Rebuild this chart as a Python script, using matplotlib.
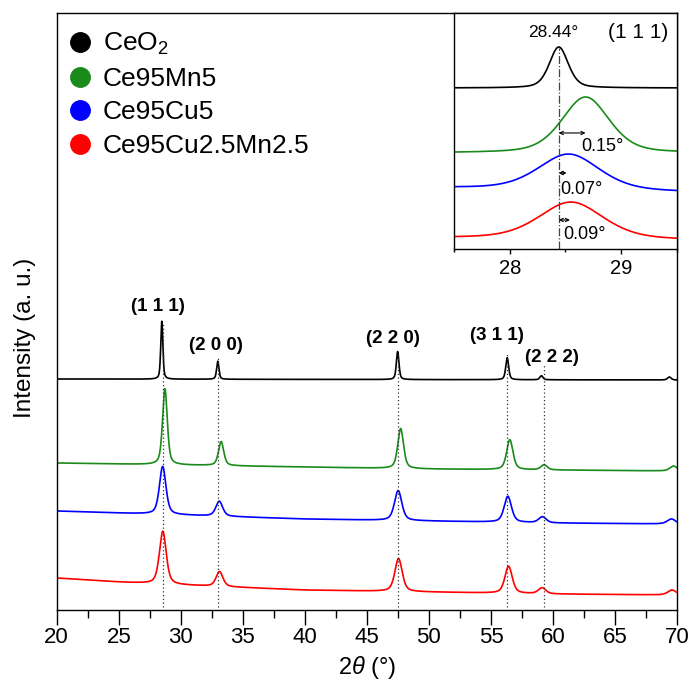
import numpy as np
import matplotlib
matplotlib.use("Agg")
import matplotlib.pyplot as plt
from matplotlib.lines import Line2D
from matplotlib.ticker import MultipleLocator

plt.rcParams['font.family'] = ['Liberation Sans', 'DejaVu Sans']
plt.rcParams['mathtext.fontset'] = 'custom'
plt.rcParams['mathtext.rm'] = 'Liberation Sans'
plt.rcParams['mathtext.it'] = 'Liberation Sans:italic'
plt.rcParams['mathtext.bf'] = 'Liberation Sans:bold'

# ---------------- data ----------------
samples = ["CeO$_2$", "Ce95Mn5", "Ce95Cu5", "Ce95Cu2.5Mn2.5"]
colors = ["black", "#1a8a1a", "#0000ff", "#ff0000"]

# main pattern: peak positions (deg), heights (a.u.), FWHM (deg)
pos_ceo2 = [28.47, 32.98, 47.48, 56.31, 59.07, 69.38]
h_ceo2 = [58, 18, 28, 22, 4, 3]
w_ceo2 = [0.20, 0.22, 0.25, 0.28, 0.30, 0.35]
base_x_ceo2 = [20, 70]
base_y_ceo2 = [231, 230]

pos_mn5 = [28.72, 33.25, 47.72, 56.52, 59.28, 69.72]
h_mn5 = [76, 24, 40, 30, 5, 5]
w_mn5 = [0.45, 0.50, 0.55, 0.60, 0.60, 0.70]
base_x_mn5 = [20, 30, 40, 50, 60, 70]
base_y_mn5 = [147, 145, 143, 141, 140, 139]

pos_cu5 = [28.54, 33.10, 47.52, 56.36, 59.15, 69.55]
h_cu5 = [48, 15, 30, 26, 6, 5]
w_cu5 = [0.62, 0.65, 0.70, 0.70, 0.70, 0.80]
base_x_cu5 = [20, 30, 40, 50, 60, 70]
base_y_cu5 = [99, 95, 91, 89, 87, 86]

pos_cumn = [28.55, 33.12, 47.55, 56.42, 59.12, 69.60]
h_cumn = [53, 15, 33, 27, 6, 5]
w_cumn = [0.65, 0.65, 0.70, 0.70, 0.70, 0.80]
base_x_cumn = [20, 25, 30, 40, 50, 60, 70]
base_y_cumn = [32, 28, 25, 20, 18, 16, 15]

# reflections (hkl) and reference lines
hkl_labels = ["(1 1 1)", "(2 0 0)", "(2 2 0)", "(3 1 1)", "(2 2 2)"]
hkl_label_x = [28.12, 32.84, 47.14, 55.46, 59.91]
hkl_label_y = [304, 265, 272, 275, 253]
ref_line_x = [28.55, 33.00, 47.50, 56.30, 59.24]
ref_line_top = [288, 252, 258, 258, 245]

# inset (1 1 1) region
in_pos = [28.44, 28.68, 28.53, 28.55]
in_h = [41, 56, 36, 37]
in_w = [0.20, 0.50, 0.65, 0.68]
in_base_left = [161, 96, 61, 11]
in_base_right = [161, 96, 57, 9]
shift_labels = ["0.15°", "0.07°", "0.09°"]
shift_end = [28.68, 28.51, 28.54]
shift_arrow_y = [116, 76, 29]
shift_text_x = [28.645, 28.457, 28.48]
shift_text_y = [102, 59, 14]
ref_peak = 28.44


def pseudo_voigt(x, c, h, w, eta=0.5):
    g = np.exp(-4 * np.log(2) * ((x - c) / w) ** 2)
    l = 1.0 / (1.0 + 4 * ((x - c) / w) ** 2)
    return h * (eta * l + (1 - eta) * g)


def pattern(x, pos, h, w, bx, by, eta=0.5):
    y = np.interp(x, bx, by).astype(float)
    for c, hh, ww in zip(pos, h, w):
        y = y + pseudo_voigt(x, c, hh, ww, eta)
    return y


fig = plt.figure(figsize=(6.91, 6.91), dpi=100)
ax = fig.add_axes([0.0821, 0.1172, 0.8977, 0.8640])

tt = np.linspace(20, 70, 6001)
main_sets = [
    (pos_ceo2, h_ceo2, w_ceo2, base_x_ceo2, base_y_ceo2),
    (pos_mn5, h_mn5, w_mn5, base_x_mn5, base_y_mn5),
    (pos_cu5, h_cu5, w_cu5, base_x_cu5, base_y_cu5),
    (pos_cumn, h_cumn, w_cumn, base_x_cumn, base_y_cumn),
]
for (p, h, w, bx, by), col in zip(main_sets, colors):
    ax.plot(tt, pattern(tt, p, h, w, bx, by), color=col, lw=1.2)

for xl, top in zip(ref_line_x, ref_line_top):
    ax.plot([xl, xl], [3, top], color="#333333", lw=0.9, ls=(0, (1, 2)))

for lab, lx, ly in zip(hkl_labels, hkl_label_x, hkl_label_y):
    ax.text(lx, ly, lab, fontsize=13.5, fontweight="bold", ha="center", va="center")

ax.set_xlim(20, 70)
ax.set_ylim(0, 597)
ax.xaxis.set_major_locator(MultipleLocator(5))
ax.xaxis.set_minor_locator(MultipleLocator(2.5))
ax.tick_params(axis="x", which="major", direction="out", length=10.5, width=1.0,
               labelsize=16, pad=2)
ax.tick_params(axis="x", which="minor", direction="out", length=5.8, width=1.0)
ax.set_yticks([])
for s in ax.spines.values():
    s.set_linewidth(1.0)
ax.set_xlabel(r"2$\mathit{\theta}$ (°)", fontsize=17, labelpad=4)
ax.set_ylabel("Intensity (a. u.)", fontsize=17.5)
ax.yaxis.set_label_coords(-0.033, 0.455)

handles = [Line2D([], [], marker="o", ls="", color=c, markersize=14) for c in colors]
ax.legend(handles, samples, loc="upper left", bbox_to_anchor=(0, 1 - 5 / 597),
          frameon=False, fontsize=19, borderaxespad=0, borderpad=0.5,
          handlelength=0.8, handletextpad=0.45, labelspacing=0.36)

# ---------------- inset ----------------
axi = fig.add_axes([0.657, 0.6397, 0.3227, 0.3415])
xi = np.linspace(27.5, 29.5, 1001)
for i, col in enumerate(colors):
    yi = pattern(xi, [in_pos[i]], [in_h[i]], [in_w[i]],
                 [27.5, 29.5], [in_base_left[i], in_base_right[i]], eta=0.4)
    axi.plot(xi, yi, color=col, lw=1.2)

axi.plot([ref_peak, ref_peak], [0, 201], color="#444444", lw=0.9, ls="-.")
axi.text(28.39, 216, f"{ref_peak:.2f}°", fontsize=12.5, ha="center", va="center")
axi.text(29.155, 216, "(1 1 1)", fontsize=15, ha="center", va="center")
for lab, xe, ya, tx, ty in zip(shift_labels, shift_end, shift_arrow_y, shift_text_x, shift_text_y):
    axi.annotate("", xy=(xe, ya), xytext=(ref_peak, ya),
                 arrowprops=dict(arrowstyle="<->", lw=0.8, mutation_scale=6,
                                 shrinkA=0, shrinkB=0, color="black"))
    axi.text(tx, ty, lab, fontsize=13, ha="left", va="center")

axi.set_xlim(27.5, 29.5)
axi.set_ylim(0, 236)
axi.set_yticks([])
axi.xaxis.set_major_locator(MultipleLocator(1))
axi.xaxis.set_minor_locator(MultipleLocator(0.5))
axi.tick_params(axis="x", which="major", direction="out", length=3.3, width=1.0,
                labelsize=14.5, pad=4)
axi.tick_params(axis="x", which="minor", direction="out", length=2.2, width=1.0)
for s in axi.spines.values():
    s.set_linewidth(1.0)

fig.savefig("out.png", dpi=100)
